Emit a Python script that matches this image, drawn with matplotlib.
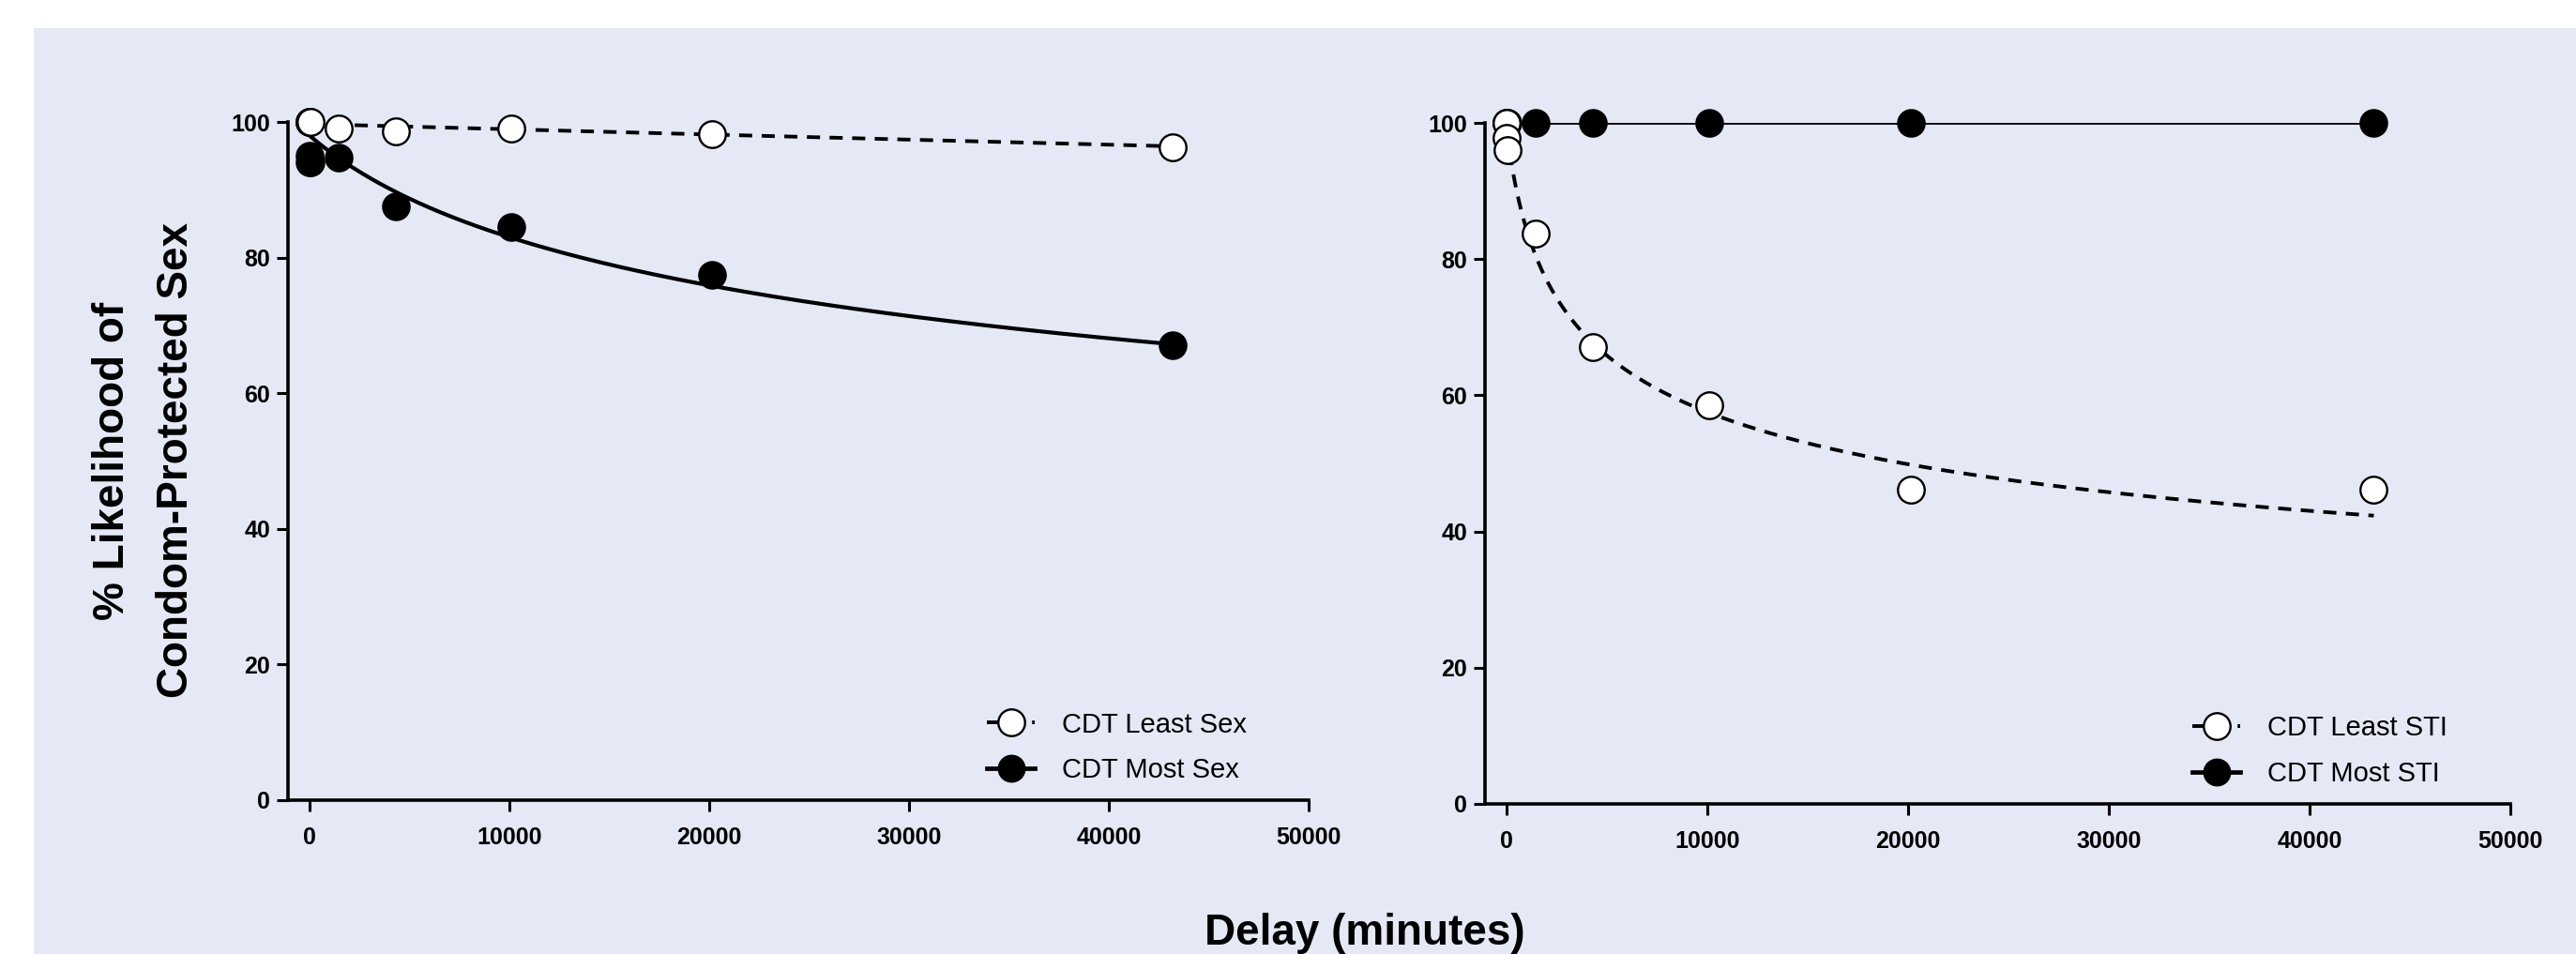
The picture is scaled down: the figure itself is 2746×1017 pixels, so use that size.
import numpy as np
import matplotlib.pyplot as plt
from matplotlib.patches import Rectangle

plt.rcParams['font.family'] = ['Liberation Sans', 'DejaVu Sans']

W, H = 2746, 1017
BG = '#e5e8f5'

# delays in minutes
delays = [0, 20, 60, 1440, 4320, 10080, 20160, 43200]

# left panel: sex
sex_least = [100, 100, 100, 99.1, 98.6, 99.1, 98.2, 96.3]
sex_most = [95.0, 94.1, 94.1, 94.7, 87.6, 84.5, 77.5, 67.1]
# right panel: STI
sti_least = [100, 97.8, 96.0, 83.8, 67.1, 58.5, 46.1, 46.1]
sti_most = [100, 100, 100, 100, 100, 100, 100, 100]

# hyperboloid fits  V = A / (1 + k*D)^s   (A, k, s)
fit_sex_least = (99.7, 7.9e-7, 1.0)
fit_sex_most = (98.0, 1.293e-4, 0.2)
fit_sti_least = (99.0, 1.078e-3, 0.22)
fit_sti_most = (100.0, 0.0, 1.0)

labels_sex = ['CDT Least Sex', 'CDT Most Sex']
labels_sti = ['CDT Least STI', 'CDT Most STI']

DASH = (3.6, 2.6)
MS = 20.5


def fit_curve(params, dmax):
    A, k, s = params
    d = np.linspace(0, dmax, 500)
    return d, A / (1 + k * d) ** s


def panel(ax, least, most, fit_l, fit_m, labels, lw_m, leg_x):
    dm, vm = fit_curve(fit_m, max(delays))
    dl, vl = fit_curve(fit_l, max(delays))
    ax.plot(dm, vm, color='black', lw=lw_m, zorder=2)
    ax.plot(dl, vl, color='black', lw=2.8, dashes=DASH, zorder=2)
    ax.plot(delays, most, 'o', ms=MS, mfc='black', mec='black',
            mew=1.5, ls='None', clip_on=False, zorder=3)
    ax.plot(delays, least, 'o', ms=MS, mfc='white', mec='black',
            mew=1.7, ls='None', clip_on=False, zorder=4)
    # legend proxies (line + marker)
    p_l, = ax.plot([], [], marker='o', ms=MS, mfc='white', mec='black',
                   mew=1.7, color='black', lw=2.8, dashes=DASH)
    p_m, = ax.plot([], [], marker='o', ms=MS, mfc='black', mec='black',
                   color='black', lw=3.4)
    ax.legend([p_l, p_m], labels, loc='lower left',
              bbox_to_anchor=(leg_x, 0.025), frameon=False,
              fontsize=21, handlelength=1.75, handletextpad=1.0,
              labelspacing=0.7, borderpad=0, borderaxespad=0)

    ax.set_xlim(-1075, 50000)
    ax.set_ylim(0, 100)
    ax.set_xticks(range(0, 50001, 10000))
    ax.set_yticks(range(0, 101, 20))
    ax.set_facecolor('none')
    for side in ['top', 'right']:
        ax.spines[side].set_visible(False)
    for side in ['left', 'bottom']:
        ax.spines[side].set_linewidth(2.6)
    ax.tick_params(direction='out', length=8.5, width=2.2,
                   labelsize=18, pad=5)
    ax.tick_params(axis='x', pad=12)
    for t in ax.get_xticklabels() + ax.get_yticklabels():
        t.set_fontweight('bold')


fig = plt.figure(figsize=(W / 100, H / 100), dpi=100, facecolor='white')
fig.patches.append(Rectangle((36 / W, 0), 1, 1 - 30 / H, transform=fig.transFigure,
                             facecolor=BG, edgecolor='none', zorder=-10))

ax1 = fig.add_axes([307 / W, 1 - 853 / H, 1088 / W, 723 / H])
ax2 = fig.add_axes([1583 / W, 1 - 857 / H, 1093 / W, 726 / H])

panel(ax1, sex_least, sex_most, fit_sex_least, fit_sex_most, labels_sex, 3.0, 0.685)
panel(ax2, sti_least, sti_most, fit_sti_least, fit_sti_most, labels_sti, 2.0, 0.69)

fig.text(154 / W, 1 - 491 / H, '% Likelihood of\nCondom-Protected Sex',
         rotation=90, ha='center', va='center', multialignment='center',
         fontsize=33, fontweight='bold', linespacing=1.7)
fig.text(1455 / W, 1 - 995 / H, 'Delay (minutes)', ha='center', va='center',
         fontsize=33, fontweight='bold')

fig.savefig('out.png', dpi=100, facecolor='white')
